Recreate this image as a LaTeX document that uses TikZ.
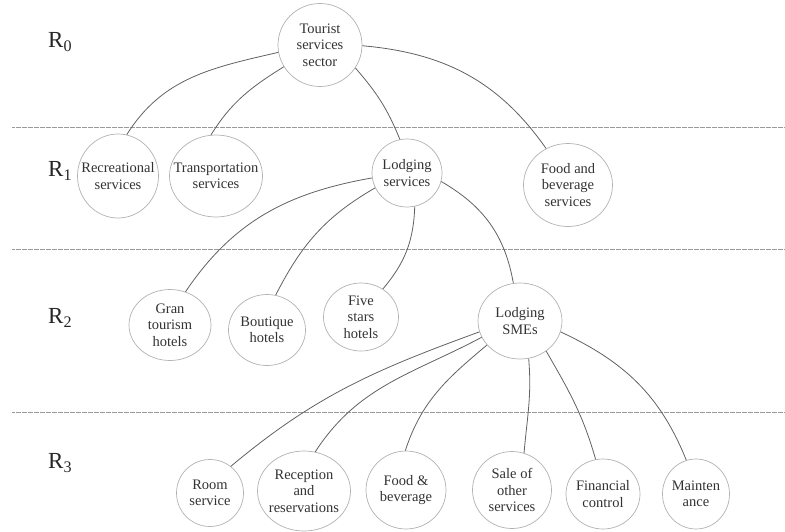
\documentclass[tikz,border=0pt]{standalone}
\usepackage{fontspec}
\setmainfont{Liberation Serif}
\usetikzlibrary{shapes.geometric}

\tikzset{
  unit/.style={ellipse, draw=black!30, line width=0.7pt, fill=white, inner sep=0pt},
  caption/.style={align=center, font=\fontsize{14.5}{16.5}\selectfont, text=black!80, inner sep=0pt},
  link/.style={draw=black!62, line width=0.8pt},
  level/.style={draw=black!40, line width=0.8pt, dash pattern=on 0.6pt off 0.6pt},
  rank/.style={anchor=west, inner sep=0pt, font=\fontsize{23}{23}\selectfont, text=black!85}
}

\begin{document}
\begin{tikzpicture}[x=1pt,y=-1pt]
  \useasboundingbox (0,0) rectangle (785,531);
  % level separators
  \foreach \y in {127,249,412}
   \draw[level] (12,\y) -- (785,\y);
  % level names
  \node[rank] (r0) at (48,42) {R\textsubscript{0}};
  \node[rank] (r1) at (48,171) {R\textsubscript{1}};
  \node[rank] (r2) at (48,318) {R\textsubscript{2}};
  \node[rank] (r3) at (48,463) {R\textsubscript{3}};
  % R0
  \node[unit, minimum width=84pt, minimum height=83pt, label={[caption]center:Tourist\\services\\sector}] (tss) at (320,45) {};
  % R1
  \node[unit, minimum width=81pt, minimum height=84pt, label={[caption]center:Recreational\\services}] (rec) at (118,176) {};
  \node[unit, minimum width=93pt, minimum height=82pt, label={[caption]center:Transportation\\services}] (tra) at (216,176) {};
  \node[unit, minimum width=70pt, minimum height=68pt, label={[caption]center:Lodging\\services}] (lod) at (407,173) {};
  \node[unit, minimum width=89pt, minimum height=83pt, label={[caption]center:Food and\\beverage\\services}] (fbs) at (568,185) {};
  % R2
  \node[unit, minimum width=82pt, minimum height=71pt, label={[caption]center:Gran\\tourism\\hotels}] (gth) at (170,325) {};
  \node[unit, minimum width=77pt, minimum height=71pt, label={[caption]center:Boutique\\hotels}] (bth) at (267,330) {};
  \node[unit, minimum width=75pt, minimum height=68pt, label={[caption]center:Five\\stars\\hotels}] (fsh) at (361,317) {};
  \node[unit, minimum width=84pt, minimum height=76pt, label={[caption]center:Lodging\\SMEs}] (sme) at (520,321) {};
  % R3
  \node[unit, minimum width=67pt, minimum height=67pt, label={[caption]center:Room\\service}] (rms) at (210,493) {};
  \node[unit, minimum width=93pt, minimum height=80pt, label={[caption]center:Reception\\and\\reservations}] (rcp) at (304,491) {};
  \node[unit, minimum width=80pt, minimum height=78pt, label={[caption]center:Food \&\\beverage}] (fab) at (406,490) {};
  \node[unit, minimum width=79pt, minimum height=77pt, label={[caption]center:Sale of\\other\\services}] (sal) at (512,490) {};
  \node[unit, minimum width=74pt, minimum height=70pt, label={[caption]center:Financial\\control}] (fin) at (603,494) {};
  \node[unit, minimum width=67pt, minimum height=70pt, label={[caption]center:Mainten\\ance}] (mnt) at (696,494) {};
  % links
  \draw[link] (tss.190) to[out=193,in=58] (rec.78);
  \draw[link] (tss.211) to[out=212,in=58] (tra.97);
  \draw[link] (tss.327) to[out=311,in=112] (lod.102);
  \draw[link] (tss.359) to[out=355,in=125] (fbs.121);
  \draw[link] (lod.188) to[out=190,in=56] (gth.65);
  \draw[link] (lod.205) to[out=210,in=63] (bth.76);
  \draw[link] (lod.283) to[out=268,in=50] (fsh.52);
  \draw[link] (lod.346) to[out=330,in=100] (sme.100);
  \draw[link] (sme.195) to[out=200,in=40] (rms.52);
  \draw[link] (sme.203) to[out=208,in=57] (rcp.74);
  \draw[link] (sme.216) to[out=220,in=72] (fab.91);
  \draw[link] (sme.283) to[out=275,in=85] (sal.72);
  \draw[link] (sme.311) to[out=300,in=106] (fin.102);
  \draw[link] (sme.345) to[out=335,in=112] (mnt.106);
\end{tikzpicture}
\end{document}
